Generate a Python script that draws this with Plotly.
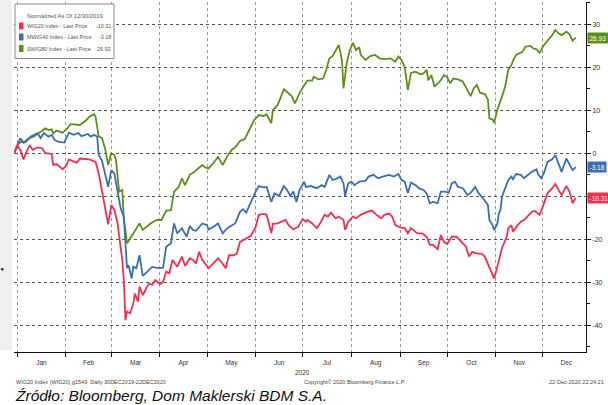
import pandas as pd
import plotly.graph_objects as go

BASE_DATE = pd.Timestamp("2019-12-30")  # normalisation date, days counted from it

# (days since 30-Dec-2019, % change)
swig80 = [(0,0.0),(3,2.3),(5,2.7),(7,2.5),(10,3.5),(13,4.0),(17,5.0),(20,5.8),(22,5.4),(24,5.6),(25,4.6),(27,5.3),
          (31,4.8),(34,5.8),(36,6.8),(39,6.7),(42,6.6),(46,7.7),(48,8.5),(51,9.1),(52,8.5),(54,3.9),(56,3.6),(58,1.2),
          (60,-2.7),(62,0.0),(64,-0.4),(65,-1.6),(67,-8.9),(69,-8.5),(70,-15.5),(71,-17.8),(72,-20.9),(74,-19.8),
          (76,-18.6),(78,-17.4),(80,-16.3),(82,-17.8),(84,-17.2),(87,-16.3),(91,-15.5),(94,-15.5),(97,-13.3),
          (100,-13.2),(102,-8.9),(105,-7.8),(107,-5.8),(109,-7.4),(112,-5.0),(115,-4.3),(120,-2.7),(122,-3.3),
          (124,-3.5),(127,-2.3),(130,-0.8),(133,-2.7),(136,-0.6),(139,0.9),(141,1.4),(144,2.9),(147,3.3),(150,5.4),
          (153,7.7),(156,8.9),(159,8.7),(161,9.1),(164,7.0),(165,10.1),(168,11.2),(172,14.9),(175,14.0),(177,13.3),
          (179,11.6),(182,14.0),(185,15.9),(187,16.9),(190,16.9),(191,17.8),(194,17.2),(197,17.4),(199,19.4),
          (201,22.1),(203,22.6),(205,24.0),(207,25.2),(209,21.7),(210,15.1),(212,20.9),(214,24.0),(216,25.7),
          (218,24.0),(220,24.7),(221,22.9),(224,21.7),(227,22.6),(230,22.9),(233,22.1),(236,21.9),(240,22.1),
          (243,21.3),(245,22.5),(247,21.7),(249,20.1),(251,14.7),(253,18.7),(256,19.0),(259,18.4),(261,18.6),
          (263,19.4),(264,17.0),(266,18.2),(268,15.5),(272,17.0),(274,18.2),(276,17.8),(278,16.3),(280,17.4),
          (283,17.2),(286,16.7),(289,14.7),(291,13.3),(293,15.1),(295,15.9),(297,14.1),(300,13.8),(302,12.6),
          (303,8.1),(305,7.9),(306,7.1),(308,10.1),(310,12.0),(311,13.2),(313,15.5),(315,19.4),(317,20.5),
          (318,21.5),(320,22.9),(322,23.3),(324,23.6),(326,24.8),(329,25.0),(331,24.4),(333,24.2),(335,23.4),
          (337,24.8),(340,26.2),(343,27.5),(345,28.7),(347,27.9),(349,27.5),(352,28.3),(354,27.7),(356,26.2),
          (358,26.93)]

mwig40 = [(0,0.0),(2,1.9),(4,3.5),(6,2.5),(8,3.1),(11,4.0),(15,4.7),(17,3.5),(19,4.7),(22,3.9),(24,4.3),(26,3.1),
          (28,2.7),(32,2.5),(35,4.8),(38,4.3),(41,4.7),(43,4.0),(47,4.5),(49,3.9),(51,4.3),(53,3.9),(54,-0.4),
          (56,-1.6),(58,-4.7),(60,-7.8),(62,-3.9),(64,-4.7),(66,-8.9),(68,-12.8),(70,-14.7),(71,-22.5),(72,-26.7),
          (73,-26.0),(75,-29.1),(76,-26.4),(78,-26.7),(80,-23.7),(81,-26.4),(82,-28.5),(85,-27.5),(88,-26.4),
          (92,-26.7),(95,-26.6),(97,-21.7),(100,-20.9),(102,-16.3),(104,-18.6),(107,-17.4),(110,-19.4),(112,-16.9),
          (114,-17.8),(116,-18.0),(120,-16.3),(123,-16.7),(124,-17.7),(127,-17.1),(130,-16.3),(133,-18.6),
          (136,-17.4),(139,-16.7),(141,-16.3),(144,-13.6),(146,-13.0),(148,-13.8),(151,-11.3),(154,-8.9),(156,-7.6),
          (159,-7.9),(161,-7.8),(164,-11.3),(166,-9.3),(169,-9.9),(172,-7.6),(174,-8.5),(176,-9.9),(178,-8.9),
          (180,-11.3),(182,-8.5),(185,-6.6),(186,-7.8),(189,-7.6),(193,-8.1),(196,-7.4),(198,-7.8),(201,-5.0),
          (203,-6.2),(205,-6.0),(208,-5.4),(210,-7.0),(211,-9.9),(213,-7.0),(215,-6.6),(217,-7.4),(220,-6.6),
          (224,-6.4),(226,-5.4),(229,-5.0),(232,-5.8),(235,-5.4),(239,-5.0),(242,-5.4),(245,-4.8),(247,-6.2),
          (249,-6.6),(251,-9.2),(253,-6.8),(256,-7.4),(258,-8.1),(261,-8.5),(263,-9.3),(265,-11.6),(267,-11.3),
          (270,-11.6),(272,-8.9),(275,-8.9),(277,-9.2),(279,-7.0),(281,-6.6),(283,-7.8),(286,-8.1),(289,-9.7),
          (291,-9.2),(294,-7.8),(296,-9.2),(299,-10.5),(302,-12.0),(303,-15.5),(305,-16.7),(306,-17.8),(308,-16.4),
          (309,-14.0),(310,-13.2),(311,-10.1),(313,-8.1),(315,-6.2),(317,-5.4),(318,-6.0),(320,-4.8),(323,-5.0),
          (325,-5.8),(328,-4.8),(330,-4.3),(333,-3.7),(334,-4.8),(336,-5.8),(338,-4.3),(340,-2.0),(343,-1.4),
          (345,-0.4),(347,-2.5),(349,-4.3),(352,-1.2),(354,-2.5),(356,-3.9),(358,-3.18)]

wig20 = [(0,0.0),(2,1.9),(4,0.8),(6,-1.4),(8,0.4),(10,1.9),(12,0.8),(15,1.4),(18,1.2),(20,0.0),(22,0.0),(24,-0.2),
         (25,-2.7),(27,-2.5),(31,-3.7),(33,-3.0),(35,-1.4),(38,-2.0),(40,-2.2),(42,-1.2),(46,-1.4),(48,-1.4),
         (50,-1.7),(52,-2.0),(54,-4.7),(56,-8.5),(58,-13.2),(60,-16.5),(62,-12.0),(64,-13.2),(66,-16.3),(68,-22.5),
         (69,-24.8),(70,-29.5),(71,-38.8),(72,-36.8),(74,-37.2),(76,-34.9),(77,-32.6),(79,-34.5),(80,-31.0),
         (82,-33.0),(84,-31.4),(86,-30.2),(88,-30.6),(90,-29.5),(93,-30.4),(95,-29.9),(97,-27.5),(99,-27.9),
         (101,-24.8),(104,-26.4),(107,-24.0),(109,-26.2),(112,-24.4),(114,-24.8),(116,-25.6),(118,-22.9),
         (120,-24.8),(124,-26.7),(127,-25.6),(130,-24.4),(132,-25.2),(135,-26.7),(137,-23.7),(140,-23.7),
         (142,-23.3),(144,-20.6),(147,-20.0),(151,-19.2),(154,-17.1),(156,-14.3),(159,-14.1),(161,-14.3),
         (164,-18.6),(165,-16.4),(168,-16.3),(171,-15.9),(173,-15.5),(175,-16.7),(178,-17.7),(181,-17.1),
         (184,-15.3),(186,-15.9),(187,-15.5),(190,-16.3),(193,-17.4),(195,-16.3),(198,-14.3),(200,-14.7),
         (202,-13.8),(205,-15.1),(207,-14.7),(210,-15.5),(211,-17.8),(213,-15.9),(216,-14.7),(218,-15.1),
         (221,-14.3),(225,-13.6),(228,-13.3),(231,-14.3),(234,-15.1),(236,-14.3),(239,-14.0),(241,-14.7),
         (243,-16.7),(246,-17.2),(249,-17.4),(251,-18.6),(253,-17.4),(257,-18.6),(260,-18.6),(263,-19.4),
         (265,-21.3),(267,-21.3),(270,-22.3),(272,-19.0),(274,-20.6),(276,-21.1),(279,-19.4),(282,-19.4),
         (285,-20.6),(288,-21.7),(290,-24.0),(292,-22.9),(295,-23.3),(298,-23.3),(300,-24.0),(303,-26.4),
         (305,-28.3),(306,-29.1),(308,-26.4),(310,-23.7),(311,-22.0),(314,-19.4),(315,-17.4),(317,-16.7),
         (318,-18.2),(321,-16.7),(323,-15.9),(325,-15.5),(327,-14.7),(330,-13.6),(332,-13.4),(335,-14.3),
         (337,-12.4),(340,-9.3),(343,-8.1),(345,-7.1),(347,-8.5),(349,-9.7),(352,-7.6),(354,-8.9),(356,-11.6),
         (358,-10.31)]

series_names = ["WIG20 Index - Last Price", "MWIG40 Index - Last Price", "SWIG80 Index - Last Price"]
series_data = [wig20, mwig40, swig80]
series_colors = ["#f5304f", "#3b6fb0", "#5e8f1c"]
last_values = [-10.31, -3.18, 26.93]

y_tick_values = [-40, -30, -20, -10, 0, 10, 20, 30]

NARROW = "Liberation Sans Narrow, Arial Narrow, Liberation Sans, Arial, sans-serif"

# plot area in pixels: x 14..586, y 2..352
L, R, T, B = 14, 586, 2, 352
def px(x):
    return (x - L) / (R - L)
def py(y):
    return (B - y) / (B - T)

fig = go.Figure()
draw_order = [2, 1, 0]
for i in draw_order:
    days, vals = zip(*series_data[i])
    dates = BASE_DATE + pd.to_timedelta(list(days), unit="D")
    fig.add_trace(go.Scatter(x=dates, y=list(vals), mode="lines", name=series_names[i],
                             line=dict(color=series_colors[i], width=1.8), showlegend=False))

shapes = []
annotations = []

# left grey strip and stray dot
shapes.append(dict(type="rect", xref="paper", yref="paper", x0=px(0), x1=px(12), y0=py(350), y1=py(0),
                   fillcolor="#efefef", line=dict(width=0), layer="below"))
shapes.append(dict(type="circle", xref="paper", yref="paper", x0=px(1), x1=px(3.5), y0=py(270.5), y1=py(268),
                   fillcolor="#222", line=dict(width=0)))

# legend box
shapes.append(dict(type="rect", xref="paper", yref="paper", x0=px(15), x1=px(114), y0=py(58.5), y1=py(4),
                   fillcolor="white", line=dict(color="#8a8a8a", width=1), layer="above"))
annotations.append(dict(xref="paper", yref="paper", x=px(64.5), y=py(15.5), text="Normalized As Of 12/30/2019",
                        showarrow=False, xanchor="center", yanchor="middle",
                        font=dict(family=NARROW, size=5.8, color="#555")))
legend_rows = [(0, 26), (1, 37), (2, 48.5)]
for i, yrow in legend_rows:
    shapes.append(dict(type="rect", xref="paper", yref="paper", x0=px(19), x1=px(23.5), y0=py(yrow + 3.5),
                       y1=py(yrow - 3.5), fillcolor=series_colors[i], line=dict(width=0), layer="above"))
    annotations.append(dict(xref="paper", yref="paper", x=px(24.5), y=py(yrow), text=series_names[i],
                            showarrow=False, xanchor="left", yanchor="middle",
                            font=dict(family=NARROW, size=5.4, color="#555")))
    annotations.append(dict(xref="paper", yref="paper", x=px(112.5), y=py(yrow), text=f"{last_values[i]:.2f}",
                            showarrow=False, xanchor="right", yanchor="middle",
                            font=dict(family=NARROW, size=5.4, color="#555")))

# last value tags on the right axis
for i in range(3):
    annotations.append(dict(xref="paper", yref="y", x=1, y=last_values[i], text=f"{last_values[i]:.2f}",
                            showarrow=False, xanchor="left", yanchor="middle", xshift=1,
                            bgcolor=series_colors[i], borderpad=1.5,
                            font=dict(family=NARROW, size=6.5, color="white")))

# year under the month labels
annotations.append(dict(xref="x", yref="paper", x="2020-07-01", y=py(372), text="2020", showarrow=False,
                        xanchor="center", yanchor="middle", font=dict(family=NARROW, size=6.5, color="#333")))
# footer
annotations.append(dict(xref="paper", yref="paper", x=px(14), y=py(381.5),
                        text="WIG20 Index (WIG20) g1549  Daily 30DEC2019-22DEC2020", showarrow=False,
                        xanchor="left", yanchor="middle", font=dict(family=NARROW, size=5.5, color="#444")))
annotations.append(dict(xref="paper", yref="paper", x=px(355), y=py(381.5),
                        text="Copyright© 2020 Bloomberg Finance L.P.", showarrow=False,
                        xanchor="center", yanchor="middle", font=dict(family=NARROW, size=5.5, color="#444")))
annotations.append(dict(xref="paper", yref="paper", x=px(606), y=py(381.5),
                        text="22-Dec-2020 22:24:21", showarrow=False,
                        xanchor="right", yanchor="middle", font=dict(family=NARROW, size=5.5, color="#444")))
annotations.append(dict(xref="paper", yref="paper", x=px(13), y=py(395.5),
                        text="<i>Źródło: Bloomberg, Dom Maklerski BDM S.A.</i>", showarrow=False,
                        xanchor="left", yanchor="middle",
                        font=dict(family="Liberation Sans, Arial, sans-serif", size=15.5, color="#111")))

fig.update_layout(
    width=608, height=405,
    margin=dict(l=L, r=608 - R, t=T, b=405 - B, pad=0),
    paper_bgcolor="white", plot_bgcolor="white",
    shapes=shapes, annotations=annotations,
    showlegend=False,
    xaxis=dict(
        type="date", range=["2019-12-30", "2020-12-28 13:00"],
        dtick="M1", tick0="2020-01-01", tickformat="%b", ticklabelmode="period",
        showgrid=True, gridcolor="#9a9a9a", griddash="dot", gridwidth=1,
        showline=True, linecolor="#111", linewidth=1,
        ticks="outside", ticklen=4, tickcolor="#111",
        tickfont=dict(family=NARROW, size=6.5, color="#333"),
        zeroline=False, fixedrange=True, automargin=False,
    ),
    yaxis=dict(
        side="right", range=[-46.2, 35.2],
        tickvals=y_tick_values, ticktext=[str(v) for v in y_tick_values],
        showgrid=True, gridcolor="#555", griddash="dot", gridwidth=1,
        showline=True, linecolor="#111", linewidth=1,
        ticks="outside", ticklen=4, tickcolor="#111",
        minor=dict(dtick=5, tick0=0, ticks="outside", ticklen=3, tickcolor="#111", showgrid=False),
        tickfont=dict(family=NARROW, size=7, color="#333"),
        zeroline=False, fixedrange=True, automargin=False,
    ),
)

fig.write_html("out.html", config={"displayModeBar": False},
               post_script="document.body.style.margin='0';document.body.style.padding='0';")
